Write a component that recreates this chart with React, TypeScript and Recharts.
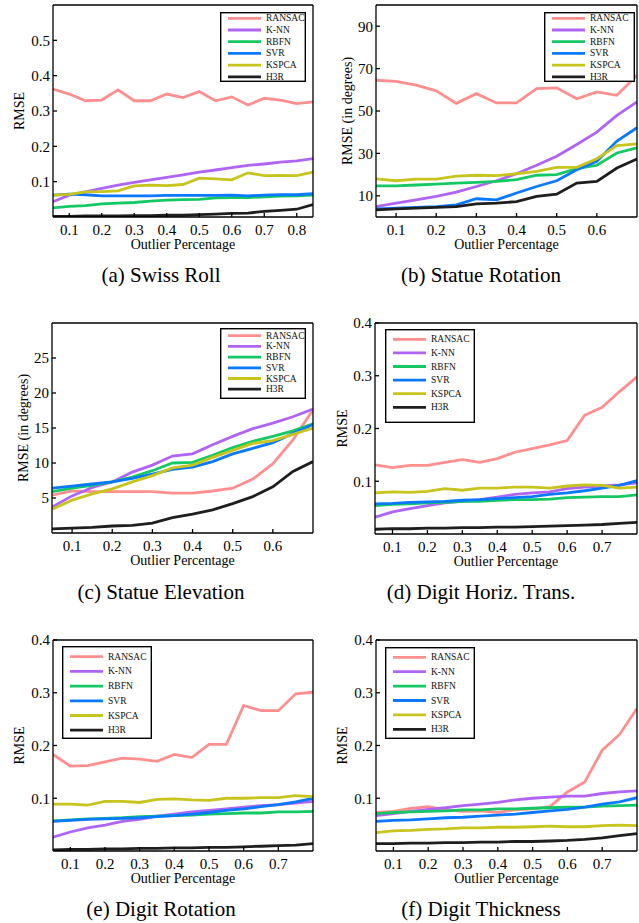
import React from "react";
import { LineChart, Line, XAxis, YAxis, Legend } from "recharts";

const FONT = '"Liberation Serif", "Times New Roman", serif';

const methods = ["RANSAC", "K-NN", "RBFN", "SVR", "KSPCA", "H3R"];
const colors = ["#ff8f8f", "#b064f5", "#14c864", "#0a78ff", "#c8c41e", "#1e1e1e"];

// (a) Swiss Roll
const swissX = [0.05, 0.1, 0.15, 0.2, 0.25, 0.3, 0.35, 0.4, 0.45, 0.5, 0.55, 0.6, 0.65, 0.7, 0.75, 0.8, 0.85];
const swissRansac = [0.362, 0.348, 0.329, 0.331, 0.36, 0.329, 0.329, 0.348, 0.338, 0.355, 0.329, 0.34, 0.317, 0.336, 0.331, 0.321, 0.326];
const swissKnn = [0.043, 0.062, 0.071, 0.081, 0.09, 0.098, 0.105, 0.112, 0.119, 0.127, 0.133, 0.14, 0.146, 0.15, 0.155, 0.159, 0.165];
const swissRbfn = [0.026, 0.03, 0.032, 0.037, 0.039, 0.041, 0.045, 0.048, 0.049, 0.05, 0.054, 0.055, 0.055, 0.057, 0.059, 0.06, 0.062];
const swissSvr = [0.062, 0.065, 0.063, 0.06, 0.06, 0.06, 0.06, 0.061, 0.061, 0.061, 0.061, 0.062, 0.06, 0.062, 0.063, 0.063, 0.066];
const swissKspca = [0.062, 0.064, 0.071, 0.072, 0.074, 0.088, 0.09, 0.089, 0.092, 0.11, 0.108, 0.105, 0.125, 0.117, 0.118, 0.117, 0.127];
const swissH3r = [0.002, 0.002, 0.003, 0.003, 0.003, 0.004, 0.004, 0.005, 0.005, 0.007, 0.008, 0.01, 0.011, 0.016, 0.019, 0.022, 0.035];

// (b) Statue Rotation, (c) Statue Elevation
const statueX = [0.05, 0.1, 0.15, 0.2, 0.25, 0.3, 0.35, 0.4, 0.45, 0.5, 0.55, 0.6, 0.65, 0.7];
const rotRansac = [64.5, 64.0, 62.2, 59.5, 53.6, 58.2, 53.8, 53.8, 60.6, 60.9, 55.8, 59.0, 57.4, 66.9];
const rotKnn = [4.9, 6.5, 8.1, 9.7, 11.7, 14.4, 17.1, 20.4, 24.4, 28.7, 34.2, 40.0, 47.9, 54.3];
const rotRbfn = [14.7, 14.7, 15.1, 15.5, 16.0, 16.3, 16.8, 17.6, 19.7, 20.0, 22.8, 24.4, 30.2, 32.6];
const rotSvr = [3.8, 4.2, 4.5, 4.9, 5.7, 8.6, 8.1, 11.3, 14.4, 17.1, 22.3, 26.3, 35.8, 42.1];
const rotKspca = [18.0, 17.1, 17.9, 17.9, 19.3, 19.7, 19.5, 20.4, 21.5, 23.4, 23.4, 27.5, 33.7, 34.5];
const rotH3r = [3.4, 3.8, 4.2, 4.5, 4.9, 6.2, 6.5, 7.3, 9.7, 10.8, 16.0, 16.8, 23.1, 27.4];

const eleRansac = [5.4, 6.0, 5.9, 5.9, 5.9, 5.9, 5.7, 5.7, 6.0, 6.4, 7.7, 9.9, 13.3, 17.6];
const eleKnn = [3.7, 5.3, 6.5, 7.3, 8.7, 9.7, 11.0, 11.3, 12.6, 13.8, 14.9, 15.7, 16.6, 17.7];
const eleRbfn = [5.9, 6.4, 6.8, 7.3, 8.0, 8.9, 10.0, 10.1, 11.1, 12.2, 13.1, 13.8, 14.6, 15.6];
const eleSvr = [6.4, 6.7, 7.0, 7.3, 7.8, 8.4, 9.1, 9.4, 10.2, 11.3, 12.1, 12.9, 14.2, 15.5];
const eleKspca = [3.4, 4.7, 5.6, 6.3, 7.3, 8.2, 9.3, 9.7, 10.8, 11.8, 12.8, 13.2, 14.1, 15.0];
const eleH3r = [0.6, 0.7, 0.8, 1.0, 1.1, 1.4, 2.2, 2.7, 3.3, 4.2, 5.2, 6.6, 8.8, 10.2];

// (d) (e) (f) digits
const digitX = [0.05, 0.1, 0.15, 0.2, 0.25, 0.3, 0.35, 0.4, 0.45, 0.5, 0.55, 0.6, 0.65, 0.7, 0.75, 0.8];
const transRansac = [0.131, 0.126, 0.13, 0.13, 0.136, 0.141, 0.136, 0.143, 0.155, 0.162, 0.169, 0.177, 0.225, 0.24, 0.27, 0.298];
const transKnn = [0.032, 0.042, 0.048, 0.054, 0.059, 0.062, 0.065, 0.07, 0.075, 0.078, 0.08, 0.086, 0.089, 0.091, 0.093, 0.097];
const transRbfn = [0.054, 0.056, 0.057, 0.059, 0.06, 0.062, 0.062, 0.064, 0.065, 0.065, 0.066, 0.069, 0.07, 0.071, 0.071, 0.074];
const transSvr = [0.057, 0.058, 0.06, 0.061, 0.062, 0.064, 0.065, 0.067, 0.069, 0.071, 0.075, 0.078, 0.082, 0.087, 0.092, 0.101];
const transKspca = [0.078, 0.08, 0.079, 0.081, 0.086, 0.083, 0.087, 0.087, 0.089, 0.089, 0.087, 0.091, 0.093, 0.092, 0.087, 0.089];
const transH3r = [0.009, 0.01, 0.01, 0.011, 0.011, 0.012, 0.012, 0.013, 0.013, 0.014, 0.015, 0.016, 0.017, 0.018, 0.02, 0.022];

const drotRansac = [0.183, 0.161, 0.162, 0.169, 0.176, 0.174, 0.17, 0.183, 0.177, 0.202, 0.202, 0.276, 0.266, 0.266, 0.298, 0.301];
const drotKnn = [0.026, 0.036, 0.044, 0.049, 0.056, 0.06, 0.066, 0.07, 0.074, 0.077, 0.08, 0.083, 0.086, 0.088, 0.091, 0.094];
const drotRbfn = [0.057, 0.059, 0.061, 0.062, 0.063, 0.065, 0.066, 0.067, 0.068, 0.07, 0.071, 0.072, 0.072, 0.074, 0.074, 0.075];
const drotSvr = [0.056, 0.058, 0.06, 0.061, 0.062, 0.063, 0.065, 0.067, 0.07, 0.073, 0.077, 0.08, 0.084, 0.088, 0.093, 0.1];
const drotKspca = [0.089, 0.089, 0.087, 0.094, 0.094, 0.092, 0.098, 0.099, 0.097, 0.096, 0.1, 0.1, 0.101, 0.101, 0.105, 0.103];
const drotH3r = [0.002, 0.003, 0.003, 0.004, 0.004, 0.005, 0.005, 0.006, 0.006, 0.007, 0.007, 0.008, 0.009, 0.01, 0.011, 0.014];

const thickRansac = [0.073, 0.075, 0.081, 0.084, 0.078, 0.075, 0.076, 0.073, 0.078, 0.08, 0.084, 0.112, 0.131, 0.191, 0.221, 0.27];
const thickKnn = [0.067, 0.071, 0.075, 0.079, 0.082, 0.086, 0.089, 0.092, 0.097, 0.1, 0.102, 0.104, 0.104, 0.109, 0.112, 0.114];
const thickRbfn = [0.071, 0.073, 0.074, 0.075, 0.076, 0.078, 0.078, 0.08, 0.08, 0.081, 0.082, 0.083, 0.083, 0.085, 0.086, 0.087];
const thickSvr = [0.056, 0.058, 0.059, 0.061, 0.063, 0.064, 0.066, 0.068, 0.07, 0.073, 0.076, 0.079, 0.083, 0.089, 0.093, 0.101];
const thickKspca = [0.035, 0.038, 0.039, 0.041, 0.042, 0.044, 0.044, 0.045, 0.045, 0.046, 0.047, 0.046, 0.046, 0.048, 0.049, 0.048];
const thickH3r = [0.014, 0.014, 0.015, 0.015, 0.016, 0.016, 0.017, 0.017, 0.018, 0.018, 0.019, 0.02, 0.022, 0.025, 0.029, 0.033];

const AXIS_W = 52;
const TOP = 12;
const BOTTOM = 40;

const panels = [
  {
    caption: "(a) Swiss Roll", yLabel: "RMSE", x: swissX,
    series: [swissRansac, swissKnn, swissRbfn, swissSvr, swissKspca, swissH3r],
    xDomain: [0.05, 0.85], xTicks: [0.1, 0.2, 0.3, 0.4, 0.5, 0.6, 0.7, 0.8],
    yDomain: [0, 0.6], yTicks: [0.1, 0.2, 0.3, 0.4, 0.5],
    plot: { x: 53, y: 5, w: 260, h: 212 }, labelOffset: 18,
    legend: { x: 220, y: 12, w: 86, h: 70, c0: 18.3, row: 11.7 },
    cap: { x: 161, y: 275 },
  },
  {
    caption: "(b) Statue Rotation", yLabel: "RMSE (in degrees)", x: statueX,
    series: [rotRansac, rotKnn, rotRbfn, rotSvr, rotKspca, rotH3r],
    xDomain: [0.05, 0.7], xTicks: [0.1, 0.2, 0.3, 0.4, 0.5, 0.6],
    yDomain: [0, 100], yTicks: [10, 30, 50, 70, 90],
    plot: { x: 376, y: 5, w: 261, h: 212 }, labelOffset: 23,
    legend: { x: 544, y: 12, w: 91, h: 70, c0: 18.3, row: 11.7 },
    cap: { x: 481, y: 275 },
  },
  {
    caption: "(c) Statue Elevation", yLabel: "RMSE (in degrees)", x: statueX,
    series: [eleRansac, eleKnn, eleRbfn, eleSvr, eleKspca, eleH3r],
    xDomain: [0.05, 0.7], xTicks: [0.1, 0.2, 0.3, 0.4, 0.5, 0.6],
    yDomain: [0, 30], yTicks: [5, 10, 15, 20, 25],
    plot: { x: 52, y: 323, w: 261, h: 210 }, labelOffset: 23,
    legend: { x: 220, y: 328, w: 86, h: 71, c0: 335.7, row: 10.7 },
    cap: { x: 161, y: 592 },
  },
  {
    caption: "(d) Digit Horiz. Trans.", yLabel: "RMSE", x: digitX,
    series: [transRansac, transKnn, transRbfn, transSvr, transKspca, transH3r],
    xDomain: [0.05, 0.8], xTicks: [0.1, 0.2, 0.3, 0.4, 0.5, 0.6, 0.7],
    yDomain: [0, 0.4], yTicks: [0.1, 0.2, 0.3, 0.4],
    plot: { x: 375, y: 323, w: 262, h: 211 }, labelOffset: 19,
    legend: { x: 385, y: 329, w: 90, h: 94, c0: 339.3, row: 13.6 },
    cap: { x: 481, y: 592 },
  },
  {
    caption: "(e) Digit Rotation", yLabel: "RMSE", x: digitX,
    series: [drotRansac, drotKnn, drotRbfn, drotSvr, drotKspca, drotH3r],
    xDomain: [0.05, 0.8], xTicks: [0.1, 0.2, 0.3, 0.4, 0.5, 0.6, 0.7],
    yDomain: [0, 0.4], yTicks: [0.1, 0.2, 0.3, 0.4],
    plot: { x: 53, y: 640, w: 260, h: 211 }, labelOffset: 18,
    legend: { x: 62, y: 646, w: 90, h: 93, c0: 656.7, row: 14.7 },
    cap: { x: 161, y: 909 },
  },
  {
    caption: "(f) Digit Thickness", yLabel: "RMSE", x: digitX,
    series: [thickRansac, thickKnn, thickRbfn, thickSvr, thickKspca, thickH3r],
    xDomain: [0.05, 0.8], xTicks: [0.1, 0.2, 0.3, 0.4, 0.5, 0.6, 0.7],
    yDomain: [0, 0.4], yTicks: [0.1, 0.2, 0.3, 0.4],
    plot: { x: 376, y: 640, w: 261, h: 211 }, labelOffset: 18.5,
    legend: { x: 385, y: 647, w: 90, h: 92, c0: 657.3, row: 14.4 },
    cap: { x: 481, y: 909 },
  },
];

// boxed legend, drawn like the MATLAB one
function LegendBox({ box }: any) {
  return (
    <svg width={box.w} height={box.h} style={{ display: "block" }}>
      <rect x={0.7} y={0.7} width={box.w - 1.4} height={box.h - 1.4} fill="#fff" stroke="#000" strokeWidth={1.4} />
      {methods.map((m, i) => {
        const cy = box.c0 - box.y + i * box.row;
        return (
          <g key={m}>
            <line x1={8} x2={41} y1={cy} y2={cy} stroke={colors[i]} strokeWidth={2.8} />
            <text x={46} y={cy} dominantBaseline="central" fontFamily={FONT} fontSize={9.5} fill="#111">
              {m}
            </text>
          </g>
        );
      })}
    </svg>
  );
}

function Panel({ p }: any) {
  const left = p.plot.x - AXIS_W;
  const top = p.plot.y - TOP;
  const width = AXIS_W + p.plot.w + 1;
  const height = TOP + p.plot.h + BOTTOM;
  const rows = p.x.map((x: number, i: number) => {
    const r: any = { x };
    methods.forEach((m, j) => (r[m] = p.series[j][i]));
    return r;
  });
  const tickFont = { fill: "#000", fontSize: 15, fontFamily: FONT };
  const line = { stroke: "#000", strokeWidth: 1.3 };

  return (
    <>
      <div style={{ position: "absolute", left, top }}>
        <LineChart width={width} height={height} data={rows} margin={{ top: TOP - 1, right: 0, bottom: 0, left: 0 }}>
          <XAxis
            dataKey="x"
            type="number"
            domain={p.xDomain}
            ticks={p.xTicks}
            allowDataOverflow
            height={BOTTOM}
            tickSize={-4}
            tickMargin={11}
            tick={tickFont}
            tickLine={line}
            axisLine={line}
            label={{ value: "Outlier Percentage", position: "insideBottom", offset: 8, fill: "#000", fontSize: 14, fontFamily: FONT }}
          />
          <XAxis
            xAxisId="top"
            orientation="top"
            dataKey="x"
            type="number"
            domain={p.xDomain}
            ticks={p.xTicks}
            allowDataOverflow
            height={1}
            tickSize={-4}
            tick={false}
            tickLine={line}
            axisLine={line}
          />
          <YAxis
            type="number"
            domain={p.yDomain}
            ticks={p.yTicks}
            allowDataOverflow
            width={AXIS_W}
            tickSize={-4}
            tickMargin={7}
            tick={tickFont}
            tickLine={line}
            axisLine={line}
            label={{
              value: p.yLabel,
              angle: -90,
              position: "insideLeft",
              offset: p.labelOffset,
              fill: "#000",
              fontSize: 14,
              fontFamily: FONT,
              style: { textAnchor: "middle" },
            }}
          />
          <YAxis
            yAxisId="right"
            orientation="right"
            type="number"
            domain={p.yDomain}
            ticks={p.yTicks}
            allowDataOverflow
            width={1}
            tickSize={-4}
            tick={false}
            tickLine={line}
            axisLine={line}
          />
          {methods.map((m, i) => (
            <Line
              key={m}
              type="linear"
              dataKey={m}
              stroke={colors[i]}
              strokeWidth={2.8}
              dot={false}
              activeDot={false}
              isAnimationActive={false}
            />
          ))}
          <Legend
            layout="vertical"
            align="center"
            verticalAlign="middle"
            content={() => <LegendBox box={p.legend} />}
            wrapperStyle={{ left: p.legend.x - left, top: p.legend.y - top, width: p.legend.w, height: p.legend.h }}
          />
        </LineChart>
      </div>
      <div
        style={{
          position: "absolute",
          left: p.cap.x - 160,
          top: p.cap.y - 13,
          width: 320,
          textAlign: "center",
          fontFamily: FONT,
          fontSize: 21,
          lineHeight: "26px",
          color: "#000",
        }}
      >
        {p.caption}
      </div>
    </>
  );
}

export default function App() {
  return (
    <div
      style={{
        position: "absolute",
        left: 0,
        top: 0,
        width: 639,
        height: 923,
        overflow: "hidden",
        background: "#fff",
        fontFamily: FONT,
      }}
    >
      {panels.map((p) => (
        <Panel key={p.caption} p={p} />
      ))}
    </div>
  );
}
